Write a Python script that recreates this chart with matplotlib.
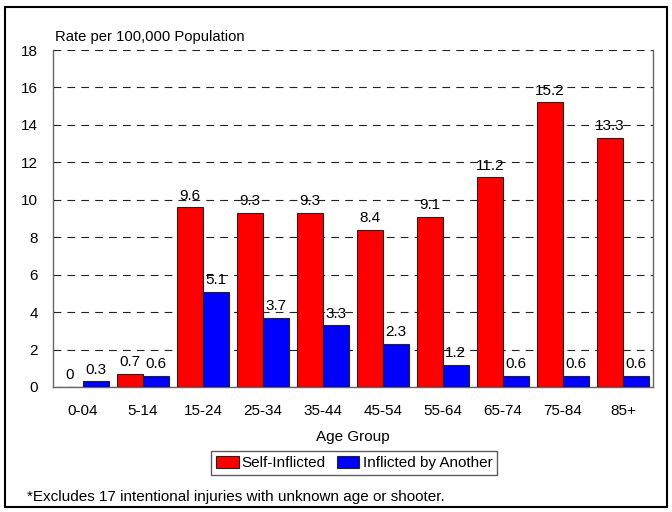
import matplotlib
matplotlib.use("Agg")
import matplotlib.pyplot as plt
from matplotlib.patches import Rectangle
import numpy as np

categories = ["0-04", "5-14", "15-24", "25-34", "35-44", "45-54", "55-64", "65-74", "75-84", "85+"]
self_inflicted = [0, 0.7, 9.6, 9.3, 9.3, 8.4, 9.1, 11.2, 15.2, 13.3]
by_another = [0.3, 0.6, 5.1, 3.7, 3.3, 2.3, 1.2, 0.6, 0.6, 0.6]
yticks = [0, 2, 4, 6, 8, 10, 12, 14, 16, 18]

plt.rcParams['font.family'] = ['Liberation Sans', 'DejaVu Sans']
FS = 10.6
FS2 = 11

fig = plt.figure(figsize=(6.72, 5.12), dpi=100)
ax = fig.add_axes([53/672, 1-387/512, 600/672, 337/512])

x = np.arange(len(categories))
w = 0.43
b1 = ax.bar(x - w/2, self_inflicted, w, color='#ff0000', edgecolor='#222222', linewidth=0.8, label='Self-Inflicted', zorder=3)
b2 = ax.bar(x + w/2, by_another, w, color='#0000ff', edgecolor='#222222', linewidth=0.8, label='Inflicted by Another', zorder=3)

for rect, v in zip(b1, self_inflicted):
    ax.text(rect.get_x() + rect.get_width()/2, v + 0.25, f"{v:g}", ha='center', va='bottom', fontsize=FS2, zorder=4)
for rect, v in zip(b2, by_another):
    ax.text(rect.get_x() + rect.get_width()/2, v + 0.25, f"{v:g}", ha='center', va='bottom', fontsize=FS2, zorder=4)

ax.set_xlim(-0.5, len(categories) - 0.5)
ax.set_ylim(0, 18)
ax.set_yticks(yticks)
ax.set_xticks(x)
ax.set_xticklabels(categories)
ax.tick_params(axis='x', length=0, labelsize=FS2, pad=12)
ax.tick_params(axis='y', length=0, labelsize=FS2, pad=11)
ax.yaxis.grid(True, linestyle=(0, (7, 5.5)), color='#222222', linewidth=0.8, zorder=0)
ax.spines['top'].set_visible(False)
for s in ['left', 'bottom', 'right']:
    ax.spines[s].set_color('#666666')
    ax.spines[s].set_linewidth(1.0)

ax.set_xlabel("Age Group", fontsize=FS2, labelpad=9)
fig.text(55/672, 1-37/512, "Rate per 100,000 Population", fontsize=FS, ha='left', va='center')

leg = ax.legend(loc='center', bbox_to_anchor=(354/672, 1-463/512), bbox_transform=fig.transFigure,
                ncol=2, fontsize=FS2, frameon=True, fancybox=False, edgecolor='#333333',
                handlelength=1.5, handleheight=0.8, handletextpad=0.2, columnspacing=0.7,
                borderpad=0.3)
leg.get_frame().set_linewidth(1.0)

fig.text(27/672, 1-497/512, "*Excludes 17 intentional injuries with unknown age or shooter.", fontsize=FS2, ha='left', va='center')

fig.patches.append(Rectangle((5/672, 5/512), 662/672, 500/512, transform=fig.transFigure,
                             fill=False, edgecolor='black', linewidth=1.5))

fig.savefig("out.png", dpi=100)
